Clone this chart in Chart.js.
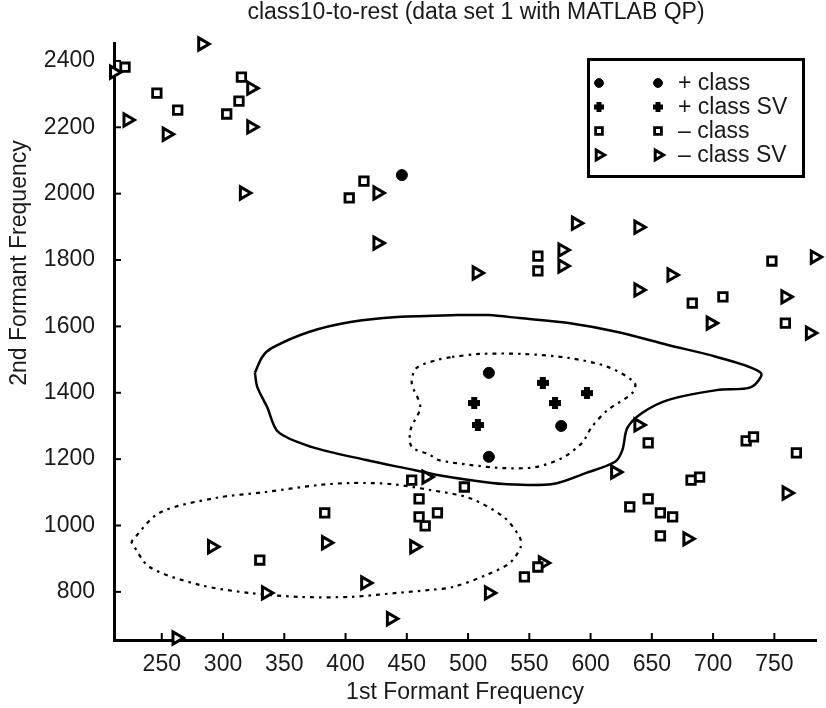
<!DOCTYPE html>
<html>
<head>
<meta charset="utf-8">
<title>class10-to-rest</title>
<script src="https://cdn.jsdelivr.net/npm/chart.js@4.4.0/dist/chart.umd.min.js"></script>
<style>
  html, body { margin: 0; padding: 0; background: #fff; }
</style>
</head>
<body>
<canvas id="myChart" width="826" height="708"></canvas>
<script>
// axis ranges and tick values
const xRange = [211, 784];
const yRange = [655, 2454];
const xTickValues = [250, 300, 350, 400, 450, 500, 550, 600, 650, 700, 750];
const yTickValues = [800, 1000, 1200, 1400, 1600, 1800, 2000, 2200, 2400];

// samples: [1st formant, 2nd formant]
const posClass = [[517, 1460], [576, 1300], [517, 1207], [446, 2056]];
const posClassSV = [[561, 1430], [597, 1399], [505, 1369], [571, 1369], [508, 1303]];
const negClass = [
  [220, 2381], [246, 2303], [263, 2252], [315, 2351], [313, 2279], [303, 2240],
  [403, 1987], [415, 2038], [557, 1812], [557, 1767], [748, 1797], [683, 1670],
  [708, 1689], [759, 1610], [647, 1249], [727, 1255], [733, 1267], [768, 1219],
  [682, 1137], [689, 1146], [632, 1056], [647, 1080], [657, 1038], [667, 1026],
  [657, 969], [546, 845], [557, 875], [497, 1116], [475, 1038], [454, 1137],
  [460, 1080], [460, 1026], [465, 999], [383, 1038], [330, 896]
];
const negClassSV = [
  [211, 2366], [222, 2222], [254, 2179], [283, 2451], [323, 2318], [323, 2201],
  [317, 2002], [426, 2002], [426, 1851], [588, 1911], [639, 1899], [577, 1830],
  [577, 1782], [507, 1761], [666, 1755], [639, 1710], [698, 1610], [759, 1689],
  [779, 1580], [783, 1809], [639, 1303], [620, 1161], [760, 1098], [679, 960],
  [561, 887], [517, 797], [291, 936], [384, 948], [456, 936], [416, 827],
  [335, 797], [437, 719], [466, 1146], [262, 661]
];

// decision boundary (solid) and the two margin contours (dotted)
const boundary = [
  [326, 1460], [332, 1508], [340, 1535], [370, 1583], [404, 1613], [442, 1628],
  [491, 1634], [517, 1634], [542, 1625], [582, 1610], [622, 1583], [663, 1544],
  [703, 1508], [739, 1460], [731, 1417], [703, 1408], [663, 1378], [642, 1339],
  [630, 1294], [626, 1228], [620, 1192], [596, 1158], [569, 1125], [529, 1125],
  [501, 1137], [475, 1152], [456, 1167], [416, 1198], [372, 1237], [345, 1282],
  [336, 1357], [328, 1417], [326, 1460]
];
const marginPos = [
  [487, 1508], [509, 1517], [545, 1517], [582, 1505], [614, 1478], [636, 1430],
  [634, 1399], [614, 1348], [601, 1297], [593, 1249], [577, 1204], [555, 1176],
  [529, 1173], [501, 1183], [475, 1198], [469, 1213], [454, 1237], [453, 1288],
  [461, 1357], [454, 1430], [458, 1475], [475, 1499], [487, 1508]
];
const marginNeg = [
  [225, 951], [248, 1038], [294, 1083], [335, 1101], [378, 1122], [404, 1128],
  [437, 1125], [469, 1107], [501, 1083], [529, 1026], [542, 966], [543, 936],
  [534, 887], [515, 851], [488, 815], [469, 806], [442, 797], [404, 785],
  [362, 785], [321, 797], [281, 821], [240, 875], [225, 951]
];

const FONT = '"Liberation Sans", Arial, sans-serif';
const TEXT = '#1a1a1a';
const toXY = arr => arr.map(p => ({x: p[0], y: p[1]}));

// thick filled plus used for the + class support vectors
function plusMarker(size, arm) {
  const c = document.createElement('canvas');
  c.width = c.height = size;
  const g = c.getContext('2d');
  g.fillStyle = '#000';
  g.fillRect((size - arm) / 2, 0, arm, size);
  g.fillRect(0, (size - arm) / 2, size, arm);
  return c;
}
const svPlus = plusMarker(12, 6);
const svPlusSmall = plusMarker(10, 5);

const markerSets = [
  {label: '+ class', data: toXY(posClass), pointStyle: 'circle', pointRadius: 5.5,
   pointBackgroundColor: '#000', pointBorderColor: '#000', pointBorderWidth: 1, pointRotation: 0},
  {label: '+ class SV', data: toXY(posClassSV), pointStyle: svPlus, pointRadius: 6,
   pointBackgroundColor: '#000', pointBorderColor: '#000', pointBorderWidth: 1, pointRotation: 0},
  {label: '\u2013 class', data: toXY(negClass), pointStyle: 'rect', pointRadius: 6,
   pointBackgroundColor: '#fff', pointBorderColor: '#000', pointBorderWidth: 2.8, pointRotation: 0},
  {label: '\u2013 class SV', data: toXY(negClassSV), pointStyle: 'triangle', pointRadius: 7,
   pointBackgroundColor: '#fff', pointBorderColor: '#000', pointBorderWidth: 3, pointRotation: 90}
].map(ds => Object.assign(ds, {clip: false}));

const lineSet = (data, dash, width) => ({
  data: toXY(data), showLine: true, pointRadius: 0, borderColor: '#000',
  borderWidth: width, borderDash: dash, tension: 0.3, fill: false
});

const lineSets = [
  lineSet(boundary, [], 2.5),
  lineSet(marginPos, [2.5, 5, 4, 5], 2.2),
  lineSet(marginNeg, [2.5, 5, 4, 5], 2.2)
];

// inward tick marks on both axes
const tickMarks = {
  id: 'tickMarks',
  afterDraw(chart) {
    const {ctx, chartArea, scales} = chart;
    ctx.save();
    ctx.strokeStyle = '#000';
    ctx.lineWidth = 2;
    xTickValues.forEach(v => {
      const px = scales.x.getPixelForValue(v);
      ctx.beginPath();
      ctx.moveTo(px, chartArea.bottom);
      ctx.lineTo(px, chartArea.bottom - 7);
      ctx.stroke();
    });
    yTickValues.forEach(v => {
      const py = scales.y.getPixelForValue(v);
      ctx.beginPath();
      ctx.moveTo(chartArea.left, py);
      ctx.lineTo(chartArea.left + 7, py);
      ctx.stroke();
    });
    ctx.restore();
  }
};

// chart title and the vertical axis title
const plotTitles = {
  id: 'plotTitles',
  afterDraw(chart) {
    const {ctx} = chart;
    ctx.save();
    ctx.font = '23px ' + FONT;
    ctx.fillStyle = TEXT;
    ctx.textAlign = 'center';
    ctx.textBaseline = 'middle';
    ctx.fillText('class10-to-rest (data set 1 with MATLAB QP)', 476, 13);
    ctx.translate(20, 263);
    ctx.rotate(-Math.PI / 2);
    ctx.fillText('2nd Formant Frequency', 0, 0);
    ctx.restore();
  }
};

// boxed legend in the upper right, two marker columns per row
const boxLegend = {
  id: 'boxLegend',
  afterDraw(chart) {
    const {ctx} = chart;
    const box = {x: 587, y: 58, w: 218, h: 120};
    ctx.save();
    ctx.fillStyle = '#fff';
    ctx.fillRect(box.x, box.y, box.w, box.h);
    ctx.strokeStyle = '#000';
    ctx.lineWidth = 3;
    ctx.strokeRect(box.x + 1.5, box.y + 1.5, box.w - 3, box.h - 3);
    ctx.font = '23px ' + FONT;
    ctx.textBaseline = 'middle';
    ctx.textAlign = 'left';
    markerSets.forEach((ds, i) => {
      const y = box.y + 25 + i * 24;
      const opts = {
        pointStyle: ds.pointStyle === svPlus ? svPlusSmall : ds.pointStyle,
        rotation: ds.pointRotation,
        radius: ds.pointRadius * 0.8,
        borderWidth: ds.pointBorderWidth
      };
      [599, 658].forEach(x => {
        ctx.fillStyle = ds.pointBackgroundColor;
        ctx.strokeStyle = ds.pointBorderColor;
        ctx.lineWidth = ds.pointBorderWidth;
        Chart.helpers.drawPoint(ctx, opts, x, y);
      });
      ctx.fillStyle = TEXT;
      ctx.fillText(ds.label, 678, y + 1);
    });
    ctx.restore();
  }
};

const ctx = document.getElementById('myChart').getContext('2d');
const myChart = new Chart(ctx, {
  type: 'scatter',
  data: {
    datasets: markerSets.concat(lineSets)
  },
  options: {
    responsive: false,
    animation: false,
    events: [],
    layout: {padding: {top: 43, right: 3, left: 0, bottom: 0}},
    plugins: {
      legend: {display: false},
      tooltip: {enabled: false},
      title: {display: false}
    },
    scales: {
      x: {
        type: 'linear',
        min: xRange[0],
        max: xRange[1],
        afterBuildTicks: scale => { scale.ticks = xTickValues.map(v => ({value: v})); },
        afterFit: scale => { scale.height = 68; },
        grid: {display: false},
        border: {display: true, color: '#000', width: 3},
        ticks: {
          autoSkip: false,
          maxRotation: 0,
          padding: 3,
          color: TEXT,
          callback: v => String(v),
          font: {family: FONT, size: 23}
        },
        title: {
          display: true,
          text: '1st Formant Frequency',
          color: TEXT,
          padding: {top: 0, bottom: 2},
          font: {family: FONT, size: 23}
        }
      },
      y: {
        type: 'linear',
        min: yRange[0],
        max: yRange[1],
        afterBuildTicks: scale => { scale.ticks = yTickValues.map(v => ({value: v})); },
        afterFit: scale => { scale.width = 114; },
        grid: {display: false},
        border: {display: true, color: '#000', width: 3},
        ticks: {
          autoSkip: false,
          padding: 11,
          color: TEXT,
          callback: v => String(v),
          font: {family: FONT, size: 23}
        }
      }
    }
  },
  plugins: [tickMarks, plotTitles, boxLegend]
});
</script>
</body>
</html>
